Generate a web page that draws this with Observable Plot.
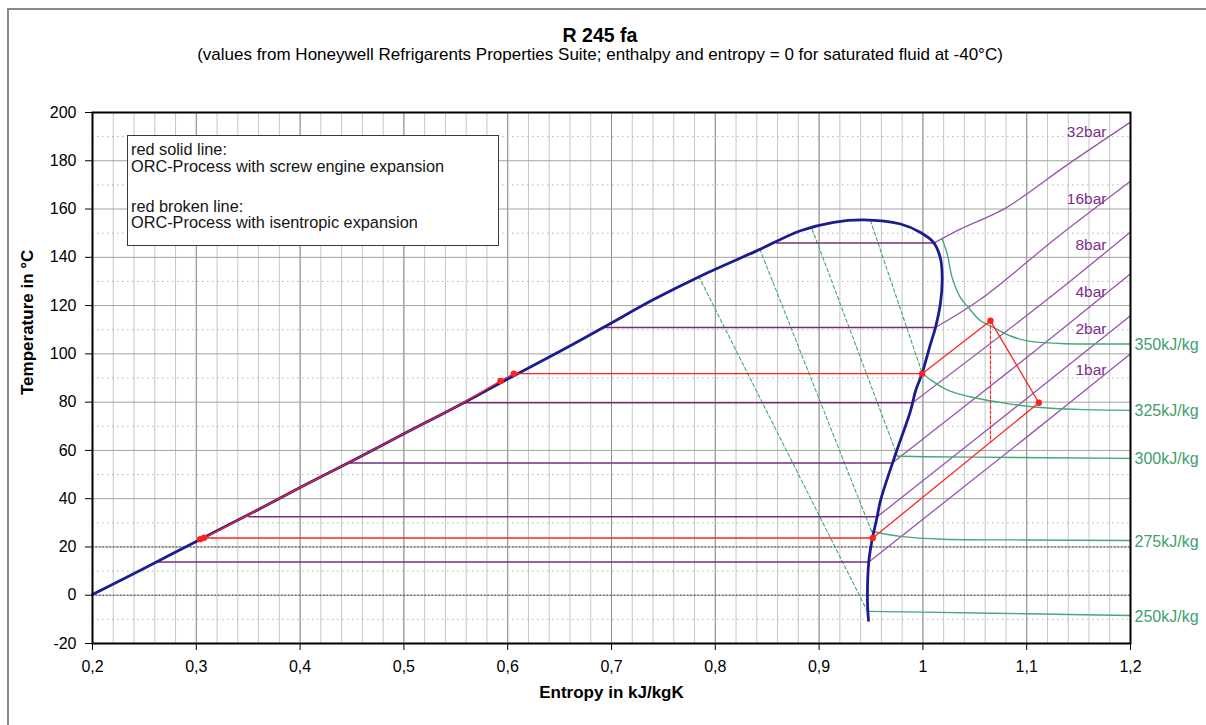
<!DOCTYPE html>
<html>
<head>
<meta charset="utf-8">
<script src="https://cdn.jsdelivr.net/npm/d3@7"></script>
<script src="https://cdn.jsdelivr.net/npm/@observablehq/plot@0.6"></script>
<style>
  html, body { margin: 0; padding: 0; background: #fff; }
  body { width: 1206px; height: 725px; overflow: hidden; position: relative; font-family: "Liberation Sans", Arial, sans-serif; }
  #outer { position: absolute; left: 7px; top: 8px; width: 1400px; height: 900px; border: 2px solid #8a8a8a; box-sizing: border-box; }
  .ttl { position: absolute; left: 0; width: 1200px; text-align: center; color: #000; white-space: nowrap; }
  #title { top: 25.5px; font-size: 19.5px; line-height: 19.5px; font-weight: bold; }
  #subtitle { top: 45.5px; font-size: 17px; line-height: 17px; }
  #chart { position: absolute; left: 0; top: 90px; }
  #legend { position: absolute; left: 127px; top: 135px; width: 372px; height: 111px; border: 1.5px solid #3a3a3a; background: #fff; box-sizing: border-box; }
  .lg { position: absolute; left: 131px; font-size: 16.3px; line-height: 16px; color: #151515; white-space: nowrap; }
</style>
</head>
<body>
<div id="outer"></div>
<div id="title" class="ttl">R 245 fa</div>
<div id="subtitle" class="ttl">(values from Honeywell Refrigarents Properties Suite; enthalpy and entropy = 0 for saturated fluid at -40°C)</div>
<div id="chart"></div>
<div id="legend"></div>
<div class="lg" style="top:140.5px">red solid line:</div>
<div class="lg" style="top:157.5px">ORC-Process with screw engine expansion</div>
<div class="lg" style="top:197.5px">red broken line:</div>
<div class="lg" style="top:213.5px">ORC-Process with isentropic expansion</div>
<script>
// ---------- axis ticks ----------
const xMajorTicks = [0.2, 0.3, 0.4, 0.5, 0.6, 0.7, 0.8, 0.9, 1.0, 1.1, 1.2];
const xMinorTicks = d3.range(0.2, 1.2001, 0.02);
const yMajorTicks = [-20, 0, 20, 40, 60, 80, 100, 120, 140, 160, 180, 200];
const yMinorTicks = [-10, 10, 30, 50, 70, 90, 110, 130, 150, 170, 190];
const yDarkDotted = [0, 20];

// ---------- saturation dome [entropy, temperature] ----------
const domeS = [0.2, 0.25, 0.30, 0.35, 0.40, 0.45, 0.50, 0.55, 0.60, 0.65, 0.692, 0.74, 0.786, 0.8435, 0.882, 0.914, 0.943,
               0.9784, 0.9977, 1.0102, 1.017, 1.0186, 1.017, 1.0121, 1.0073, 0.9993, 0.9929, 0.988, 0.9736, 0.959, 0.956, 0.9514, 0.9479, 0.9466, 0.9476];
const domeT = [0.3, 11.2, 22.3, 33.3, 44.6, 55.6, 66.9, 78.0, 89.6, 101.0, 110.9, 122.4, 132.3, 143.4, 151.0, 154.5, 155.5,
               153.8, 150.3, 146.2, 139.4, 131.1, 121.3, 110.9, 104.0, 92.0, 84.6, 76.3, 58.4, 39.0, 32.6, 23.7, 14.0, -2.6, -10.4];

// ---------- isobars ----------
const isobarNames = ["32bar", "16bar", "8bar", "4bar", "2bar", "1bar"];
const isobarSatT = [145.9, 110.9, 79.75, 54.8, 32.5, 13.8];
const isobarLiqS = [0.859, 0.692, 0.5593, 0.4486, 0.3506, 0.2607];
const isobarVapS = [1.0105, 1.0121, 0.990, 0.9705, 0.956, 0.9479];
const isobarLabelT = [191.9, 164.0, 145.2, 125.8, 110.3, 93.3];
const isobarLabelS = 1.1769;
const superheatIsobars = [
  [[1.0105, 145.9], [1.036, 151.7], [1.0796, 160.4], [1.139, 178.3], [1.2, 196.0]],
  [[1.0121, 110.9], [1.0555, 122.6], [1.13, 148.5], [1.2, 171.5]],
  [[0.990, 79.75], [1.1197, 122.5], [1.2, 150.5]],
  [[0.9705, 54.8], [1.1, 98.5], [1.2, 133.2]],
  [[0.956, 32.5], [1.1, 81.5], [1.2, 115.8]],
  [[0.9479, 13.8], [1.1, 65.5], [1.2, 100.0]]
];

// ---------- isenthalps ----------
const isenthalpNames = ["250kJ/kg", "275kJ/kg", "300kJ/kg", "325kJ/kg", "350kJ/kg"];
const wetIsenthalps = [
  [[0.7841, 132.1], [0.9466, -6.7]],
  [[0.8429, 143.4], [0.9505, 26.5]],
  [[0.8933, 151.7], [0.9755, 57.6]],
  [[0.9495, 155.2], [0.9993, 92.0]]
];
const superheatIsenthalps = [
  [[0.9466, -6.7], [1.0, -7.0], [1.1, -7.7], [1.2, -8.4]],
  [[0.9505, 26.5], [0.978, 24.4], [1.02, 23.2], [1.1, 22.9], [1.2, 22.7]],
  [[0.9755, 57.6], [1.0, 57.4], [1.05, 57.2], [1.2, 56.7]],
  [[0.9993, 92.0], [1.01, 88.5], [1.025, 84.8], [1.05, 81.8], [1.08, 79.5], [1.11, 77.9], [1.15, 77.0], [1.2, 76.6]],
  [[1.0186, 147.6], [1.0234, 141.4], [1.0282, 131.6], [1.0362, 123.3], [1.0439, 119.2], [1.0555, 113.7], [1.0683, 110.9], [1.0844, 107.4], [1.1005, 105.4], [1.1326, 104.3], [1.2, 104.1]]
];

// ---------- ORC process ----------
const processSolid = [[0.3057, 23.3], [0.35, 33.3], [0.40, 44.6], [0.45, 55.6], [0.50, 66.9], [0.55, 78.0], [0.5931, 88.8],
                      [0.6059, 91.8], [0.9993, 91.8], [1.0651, 113.7], [1.1117, 79.75], [0.9517, 23.7], [0.3057, 23.7]];
const processIsentropic = [[1.0651, 113.7], [1.0651, 63.4]];
const processPoints = [[0.3037, 23.2], [0.3075, 23.8], [0.5931, 88.8], [0.6059, 91.8], [0.9993, 91.8], [1.0651, 113.7], [1.1117, 79.75], [0.9517, 23.7]];

// ---------- build tables ----------
const dome = domeS.map((s, i) => ({s, T: domeT[i]}));
const isobarRules = isobarNames.map((n, i) => ({name: n, T: isobarSatT[i], s1: isobarLiqS[i], s2: isobarVapS[i]}));
const isobarLabels = isobarNames.map((n, i) => ({name: n, s: isobarLabelS, T: isobarLabelT[i]}));
const toRows = (series, names) => series.flatMap((pts, i) => pts.map(p => ({name: names[i], s: p[0], T: p[1]})));
const shIsobarRows = toRows(superheatIsobars, isobarNames);
const wetRows = toRows(wetIsenthalps, isenthalpNames);
const shIsenRows = toRows(superheatIsenthalps, isenthalpNames);
const isenLabels = superheatIsenthalps.map((pts, i) => ({name: isenthalpNames[i], s: pts[pts.length - 1][0], T: pts[pts.length - 1][1]}));
const pxy = {x: d => d[0], y: d => d[1]};
const fmtX = d => String(Math.round(d * 10) / 10).replace(".", ",");

const purpleDark = "#7a2b80", purpleLight = "#9b52ad", green = "#44a877", red = "#ff2222";

const chart = Plot.plot({
  width: 1206, height: 635,
  marginLeft: 92, marginRight: 76, marginTop: 22, marginBottom: 82,
  x: {domain: [0.2, 1.2]},
  y: {domain: [-20, 200]},
  style: {fontFamily: '"Liberation Sans", Arial, sans-serif', fontSize: "16px", color: "#000", background: "transparent", overflow: "visible"},
  marks: [
    Plot.ruleX(xMinorTicks, {stroke: "#c6c6c6", strokeWidth: 1}),
    Plot.ruleX(xMajorTicks, {stroke: "#8f8f8f", strokeWidth: 1}),
    Plot.ruleY(yMinorTicks, {stroke: "#b4b4b4", strokeWidth: 1, strokeDasharray: "1.5,3.5"}),
    Plot.ruleY(yMajorTicks, {stroke: "#a2a2a2", strokeWidth: 1}),
    Plot.ruleY(yDarkDotted, {stroke: "#444", strokeWidth: 1, strokeDasharray: "1.5,2"}),
    // isenthalps in wet region
    Plot.line(wetRows, {x: "s", y: "T", z: "name", stroke: green, strokeWidth: 1.1, strokeDasharray: "3.5,2.5"}),
    // isobars
    Plot.ruleY(isobarRules, {y: "T", x1: "s1", x2: "s2", stroke: purpleDark, strokeWidth: 1.5}),
    Plot.line(shIsobarRows, {x: "s", y: "T", z: "name", stroke: purpleLight, strokeWidth: 1.3, curve: "catmull-rom"}),
    // isenthalps superheated
    Plot.line(shIsenRows, {x: "s", y: "T", z: "name", stroke: green, strokeWidth: 1.4, curve: "catmull-rom"}),
    // saturation dome
    Plot.line(dome, {x: "s", y: "T", stroke: "#1c1c8e", strokeWidth: 2.8, curve: "catmull-rom"}),
    // ORC process
    Plot.line(processSolid, {...pxy, stroke: red, strokeWidth: 1.3}),
    Plot.line(processIsentropic, {...pxy, stroke: red, strokeWidth: 1.2, strokeDasharray: "3,2"}),
    Plot.dot(processPoints, {...pxy, r: 3.2, fill: red, stroke: "none"}),
    // labels
    Plot.text(isobarLabels, {x: "s", y: "T", text: "name", textAnchor: "end", fill: "#7d2d8c", fontSize: 15.5}),
    Plot.text(isenLabels, {x: "s", y: "T", text: "name", textAnchor: "start", dx: 4, dy: 1, fill: "#3f9f6c", fontSize: 16}),
    // axes
    Plot.axisX({ticks: xMajorTicks, tickSize: 7, tickPadding: 10, tickFormat: fmtX, label: null, fontSize: 16, stroke: "#000"}),
    Plot.axisY({ticks: yMajorTicks, tickSize: 7, tickPadding: 9, tickFormat: d => String(d), label: null, fontSize: 16, stroke: "#000"}),
    Plot.text(["Entropy in kJ/kgK"], {text: d => d, frameAnchor: "bottom", dy: 54, fontWeight: "bold", fontSize: 17}),
    Plot.text(["Temperature in °C"], {text: d => d, frameAnchor: "left", rotate: -90, dx: -65, dy: 17, fontWeight: "bold", fontSize: 17}),
    Plot.frame({stroke: "#000", strokeWidth: 2})
  ]
});
document.getElementById("chart").appendChild(chart);
</script>
</body>
</html>
